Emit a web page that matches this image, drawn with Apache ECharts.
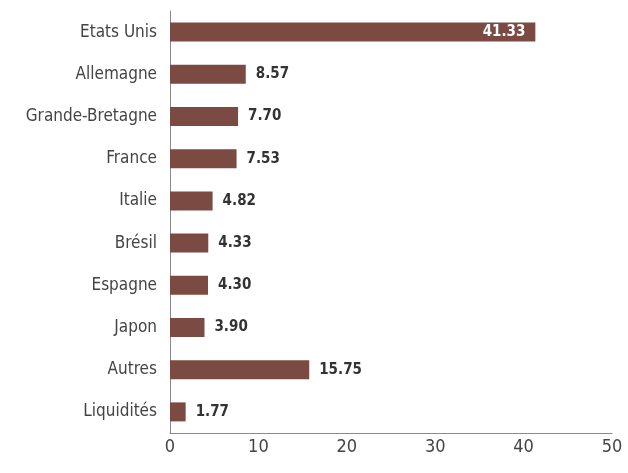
<!DOCTYPE html>
<html>
<head>
<meta charset="utf-8">
<script src="https://cdn.jsdelivr.net/npm/echarts@6/dist/echarts.min.js"></script>
<style>
  html, body { margin: 0; padding: 0; background: #fff; }
  #chart { width: 628px; height: 473px; }
</style>
</head>
<body>
<div id="chart"></div>
<script>
// categories listed top to bottom
var countries = ['Etats Unis', 'Allemagne', 'Grande-Bretagne', 'France', 'Italie',
  'Brésil', 'Espagne', 'Japon', 'Autres', 'Liquidités']
var weights = [41.33, 8.57, 7.70, 7.53, 4.82, 4.33, 4.30, 3.90, 15.75, 1.77]

var font = '"Liberation Sans Narrow", "DejaVu Sans Condensed", sans-serif'

var chart = echarts.init(document.getElementById('chart'))
chart.setOption({
  animation: false,
  grid: {
    left: 170,
    right: 16,
    top: 11,
    bottom: 40
  },
  xAxis: {
    type: 'value',
    min: 0,
    max: 50,
    interval: 10,
    splitLine: { show: false },
    axisLine: { show: true, lineStyle: { color: '#8a8a8a', width: 1 } },
    axisTick: { show: false },
    axisLabel: { color: '#444', fontSize: 18, fontFamily: font, margin: 5 }
  },
  yAxis: {
    type: 'category',
    inverse: true,
    data: countries,
    axisLine: { show: true, lineStyle: { color: '#8a8a8a', width: 1 } },
    axisTick: { show: false },
    axisLabel: { color: '#444', fontSize: 17, fontFamily: font, margin: 13 }
  },
  series: [{
    type: 'bar',
    data: weights.map(function (v, i) {
      // first bar is long enough to hold its value inside
      if (i === 0) {
        return { value: v, label: { position: 'insideRight', color: '#fff', distance: 10 } }
      }
      return v
    }),
    barWidth: 19,
    itemStyle: { color: '#7b4a42' },
    label: {
      show: true,
      position: 'right',
      distance: 10,
      color: '#333',
      fontSize: 15,
      fontWeight: 'bold',
      fontFamily: font,
      formatter: function (p) { return p.value.toFixed(2) }
    }
  }]
})
</script>
</body>
</html>
